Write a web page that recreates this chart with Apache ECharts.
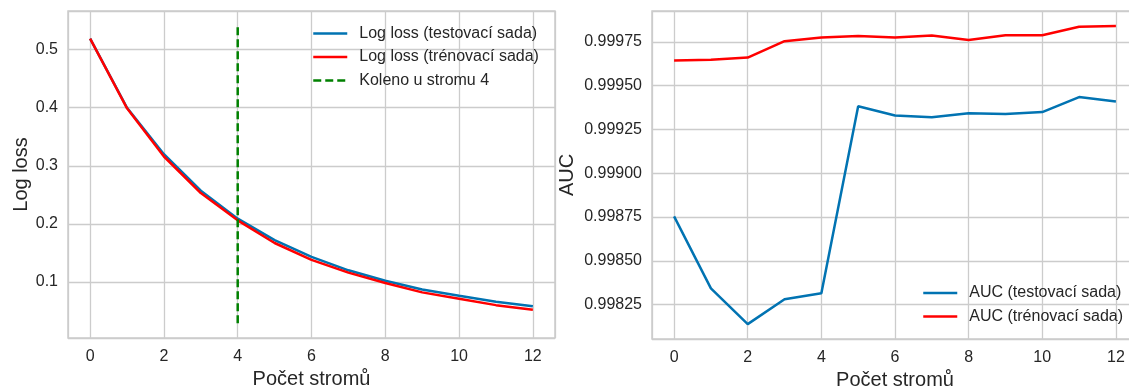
<!DOCTYPE html>
<html>
<head>
<meta charset="utf-8">
<script src="https://cdn.jsdelivr.net/npm/echarts@6/dist/echarts.min.js"></script>
<style>
  html, body {margin: 0; padding: 0; background: #fff;}
  #chart {width: 1129px; height: 387px;}
</style>
</head>
<body>
<div id="chart"></div>
<script>
// data
const trees = [0, 1, 2, 3, 4, 5, 6, 7, 8, 9, 10, 11, 12];
const lossTest = [0.519, 0.400, 0.320, 0.257, 0.209, 0.172, 0.143, 0.120, 0.102, 0.087, 0.076, 0.066, 0.058];
const lossTrain = [0.519, 0.399, 0.316, 0.253, 0.206, 0.167, 0.138, 0.116, 0.098, 0.082, 0.071, 0.060, 0.052];
const aucTest = [0.998754, 0.998343, 0.998139, 0.998281, 0.998315, 0.999382, 0.999330, 0.999319, 0.999342, 0.999338, 0.999349, 0.999435, 0.999410];
const aucTrain = [0.999643, 0.999648, 0.999660, 0.999754, 0.999775, 0.999784, 0.999775, 0.999786, 0.999760, 0.999788, 0.999788, 0.999836, 0.999841];
const kneeTree = 4;
const kneeSpan = [0.029, 0.541];

const FONT = 'Liberation Sans, Arial, sans-serif';
const TXT = '#262626';
const GRID = '#cccccc';

// matplotlib-like 5% margins
const pad = (lo, hi) => [lo - (hi - lo) * 0.05, hi + (hi - lo) * 0.05];
const xr = pad(Math.min(...trees), Math.max(...trees));
const lossR = pad(Math.min(...lossTest, ...lossTrain, kneeSpan[0]), Math.max(...lossTest, ...lossTrain, kneeSpan[1]));
const aucR = pad(Math.min(...aucTest, ...aucTrain), Math.max(...aucTest, ...aucTrain));

const pair = arr => arr.map((v, i) => [trees[i], v]);

const xAxisBase = (gridIndex) => ({
  type: 'value',
  gridIndex,
  min: xr[0],
  max: xr[1],
  minInterval: 2,
  maxInterval: 2,
  name: 'Počet stromů',
  nameLocation: 'middle',
  nameGap: 29,
  nameTextStyle: {fontSize: 20, color: TXT, fontFamily: FONT},
  axisLine: {show: false},
  axisTick: {show: false},
  axisLabel: {showMinLabel: false, showMaxLabel: false, fontSize: 16, color: TXT, fontFamily: FONT, margin: 11},
  splitLine: {show: true, lineStyle: {color: GRID, width: 1.3}}
});

const yAxisBase = (gridIndex, r, step, digits, name, gap) => ({
  type: 'value',
  gridIndex,
  min: r[0],
  max: r[1],
  minInterval: step,
  maxInterval: step,
  name,
  nameLocation: 'middle',
  nameGap: gap,
  nameTextStyle: {fontSize: 20, color: TXT, fontFamily: FONT},
  axisLine: {show: false},
  axisTick: {show: false},
  axisLabel: {
    showMinLabel: false, showMaxLabel: false, fontSize: 16, color: TXT, fontFamily: FONT, margin: 10,
    formatter: v => v.toFixed(digits)
  },
  splitLine: {show: true, lineStyle: {color: GRID, width: 1.3}}
});

const lineSeries = (name, data, color, xi, extra) => Object.assign({
  name,
  type: 'line',
  xAxisIndex: xi,
  yAxisIndex: xi,
  data,
  symbol: 'none',
  lineStyle: {color, width: 2.5},
  itemStyle: {color},
  z: 3
}, extra || {});

const legendBase = {
  orient: 'vertical', padding: 0,
  itemWidth: 34, itemHeight: 14, itemGap: 7.5,
  itemStyle: {opacity: 0, borderWidth: 0},
  lineStyle: {width: 2.5},
  textStyle: {fontSize: 16, color: TXT, fontFamily: FONT, padding: [0, 0, 0, 7]}
};

const gridBase = {
  top: 11, height: 327, show: true, borderColor: GRID, borderWidth: 1.5,
  backgroundColor: 'transparent', containLabel: false, outerBoundsMode: 'none'
};

const chart = echarts.init(document.getElementById('chart'), null, {renderer: 'canvas'});
chart.setOption({
  animation: false,
  backgroundColor: '#fff',
  textStyle: {fontFamily: FONT},
  grid: [
    Object.assign({}, gridBase, {left: 68, width: 487}),
    Object.assign({}, gridBase, {left: 652, width: 486, height: 328})
  ],
  xAxis: [xAxisBase(0), xAxisBase(1)],
  yAxis: [
    yAxisBase(0, lossR, 0.1, 1, 'Log loss', 37),
    yAxisBase(1, aucR, 0.00025, 5, 'AUC', 75)
  ],
  legend: [
    Object.assign({}, legendBase, {
      data: ['Log loss (testovací sada)', 'Log loss (trénovací sada)', 'Koleno u stromu 4'],
      left: 312, top: 25.5
    }),
    Object.assign({}, legendBase, {
      data: ['AUC (testovací sada)', 'AUC (trénovací sada)'],
      left: 922, top: 285
    })
  ],
  series: [
    lineSeries('Log loss (testovací sada)', pair(lossTest), '#0173b2', 0),
    lineSeries('Log loss (trénovací sada)', pair(lossTrain), '#ff0000', 0),
    lineSeries('Koleno u stromu 4', [[kneeTree, kneeSpan[0]], [kneeTree, kneeSpan[1]]], '#008000', 0,
      {lineStyle: {color: '#008000', width: 2.5, type: [8, 4]}}),
    lineSeries('AUC (testovací sada)', pair(aucTest), '#0173b2', 1),
    lineSeries('AUC (trénovací sada)', pair(aucTrain), '#ff0000', 1)
  ]
});
</script>
</body>
</html>
